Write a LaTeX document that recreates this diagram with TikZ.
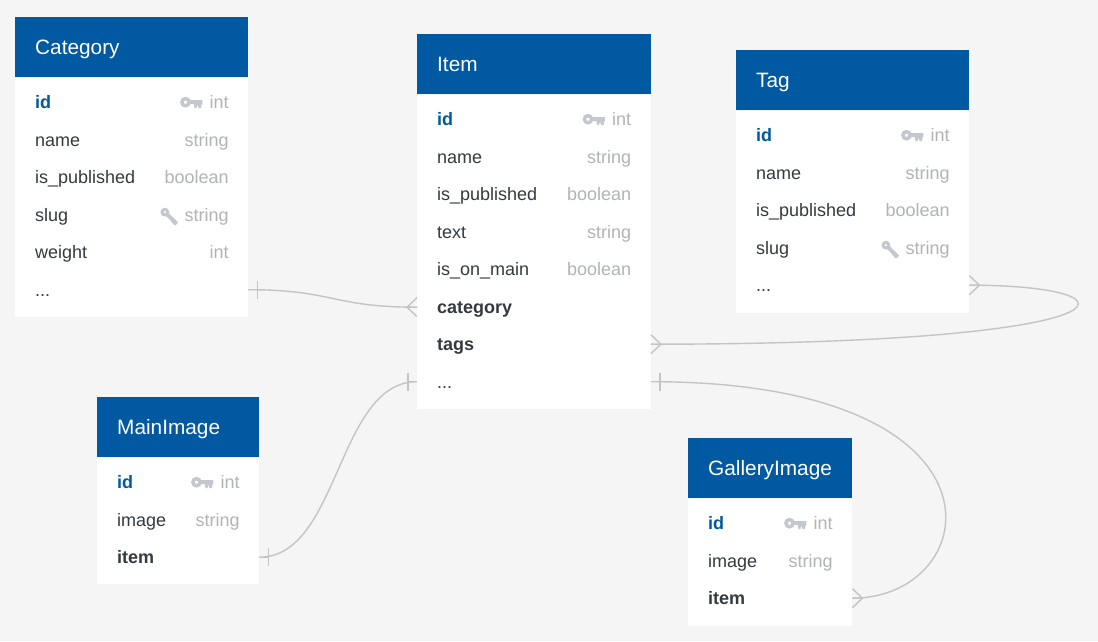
\documentclass[tikz,border=0pt]{standalone}
\usepackage{fontspec}
\setmainfont{Liberation Sans}
\usetikzlibrary{positioning}

\definecolor{bgcol}{HTML}{F5F5F5}
\definecolor{headcol}{HTML}{0159A1}
\definecolor{textcol}{HTML}{343A40}
\definecolor{typecol}{HTML}{B0B3B7}
\definecolor{keycol}{HTML}{C3C7CE}
\definecolor{linecol}{HTML}{C4C4C4}

\begin{document}
\begin{tikzpicture}[x=1pt,y=-1pt]

  \tikzset{head node/.style={rectangle, fill=headcol, text=white, anchor=north west,
  		font=\fontsize{20.8}{24}\selectfont, align=left, text width=#1-40pt,
  		text height=19pt, text depth=4pt,
  		minimum height=60pt, inner xsep=20pt, inner ysep=0pt}, }
  \tikzset{body node/.style={rectangle, fill=white, minimum width=#1, inner sep=0pt}, }
  \tikzset{field node/.style={anchor=west, inner sep=0pt, text=textcol, text height=13pt,
  		text depth=4pt, font=\fontsize{18}{22}\selectfont}, }
  \tikzset{fk node/.style={field node, font=\fontsize{18}{22}\selectfont\bfseries}, }
  \tikzset{pk node/.style={fk node, text=headcol}, }
  \tikzset{type node/.style={field node, anchor=east, text=typecol}, }
  \tikzset{linea/.style={draw=linecol, line width=1.4pt}, }
  \tikzset{
    one mark/.pic={\draw[linea] (0,0) -- (9,0) (9,-9) -- (9,9);},
    many mark/.pic={\draw[linea] (0,-9.5) -- (10,0) -- (0,9.5) (0,0) -- (10,0);},
    pkey/.pic={\draw[keycol, line width=3.4pt] (-24,-2) circle (3.6);
      \fill[keycol] (-20,-4) -- (-7,-4) -- (-7,0) -- (-8,0.5) -- (-8.5,4) -- (-11,4) -- (-11.5,1.5)
        -- (-12.5,1.5) -- (-13,4) -- (-15,4) -- (-15.5,0) -- (-20,0) -- cycle;},
    skey/.pic={\begin{scope}[shift={(-15,0)}, rotate=-45]
      \draw[keycol, line width=3pt] (-6.5,0) circle (2.8);
      \fill[keycol] (-3,-2) -- (10,-2) -- (10.5,0) -- (10,2.4) -- (5,2.4) -- (4,1.8) -- (-3,2) -- cycle;
      \end{scope}},
  }

  \fill[bgcol] (0,0) rectangle (1098,641);
  \path[use as bounding box] (0,0) rectangle (1098,641);

  \node[head node=233pt] (cat) at (15,17) {Category};
  \node[body node=233pt, minimum height=239.5pt, below=0pt of cat] (catbody) {};
  \node[head node=233.5pt] (item) at (417,34) {Item};
  \node[body node=233.5pt, minimum height=314.5pt, below=0pt of item] (itembody) {};
  \node[head node=233pt] (tag) at (736,50) {Tag};
  \node[body node=233pt, minimum height=202pt, below=0pt of tag] (tagbody) {};
  \node[head node=162pt] (main) at (97,397) {MainImage};
  \node[body node=162pt, minimum height=126.5pt, below=0pt of main] (mainbody) {};
  \node[head node=164pt] (gal) at (688,438) {GalleryImage};
  \node[body node=164pt, minimum height=127.5pt, below=0pt of gal] (galbody) {};

\def\etc{...}
\foreach \t/\list in {
    cat/{1/id/int/pk node,2/name/string/field node,3/is\_published/boolean/field node,4/slug/string/field node,5/weight/int/field node,6/\etc//field node},
    item/{1/id/int/pk node,2/name/string/field node,3/is\_published/boolean/field node,4/text/string/field node,5/is\_on\_main/boolean/field node,6/category//fk node,7/tags//fk node,8/\etc//field node},
    tag/{1/id/int/pk node,2/name/string/field node,3/is\_published/boolean/field node,4/slug/string/field node,5/\etc//field node},
    main/{1/id/int/pk node,2/image/string/field node,3/item//fk node},
    gal/{1/id/int/pk node,2/image/string/field node,3/item//fk node}}
  \foreach \i/\n/\ty/\st in \list {
    \pgfmathsetmacro{\dy}{-26.8-37.5*(\i-1)}
    \node[\st] (\t\i) at ([xshift=20pt,yshift=\dy pt]\t body.north west) {\n};
    \node[type node] (\t\i t) at ([xshift=-19.5pt,yshift=\dy pt]\t body.north east) {\ty};
  };

\foreach \k in {cat1t,item1t,tag1t,main1t,gal1t}
  \pic at (\k.west) {pkey};
\foreach \k in {cat4t,tag4t}
  \pic at (\k.west) {skey};

  \coordinate (catout) at ([yshift=2pt]catbody.east |- cat6);
  \coordinate (itemcat) at ([yshift=1.5pt]itembody.west |- item6);
  \coordinate (itemtags) at ([yshift=2pt]itembody.east |- item7);
  \coordinate (itemin) at ([yshift=2pt]itembody.west |- item8);
  \coordinate (itemout) at ([yshift=2pt]itembody.east |- item8);
  \coordinate (tagout) at ([yshift=2pt]tagbody.east |- tag5);
  \coordinate (mainout) at ([yshift=2pt]mainbody.east |- main3);
  \coordinate (galout) at ([yshift=2pt]galbody.east |- gal3);

  \draw[linea] (catout) .. controls +(85,0) and +(-85,0) .. (itemcat);
  \draw[linea] (mainout) .. controls +(80,0) and +(-80,0) .. (itemin);
  \draw[linea] (itemtags) .. controls +(495,0) and +(180,0) .. (tagout);
  \draw[linea] (itemout) .. controls +(372,0) and +(132,0) .. (galout);

\foreach \c in {catout,mainout,itemout}
  \pic at (\c) {one mark};
  \pic[xscale=-1] at (itemin) {one mark};
  \pic[xscale=-1] at (itemcat) {many mark};
\foreach \c in {itemtags,tagout,galout}
  \pic at (\c) {many mark};
%%
\end{tikzpicture}
\end{document}
